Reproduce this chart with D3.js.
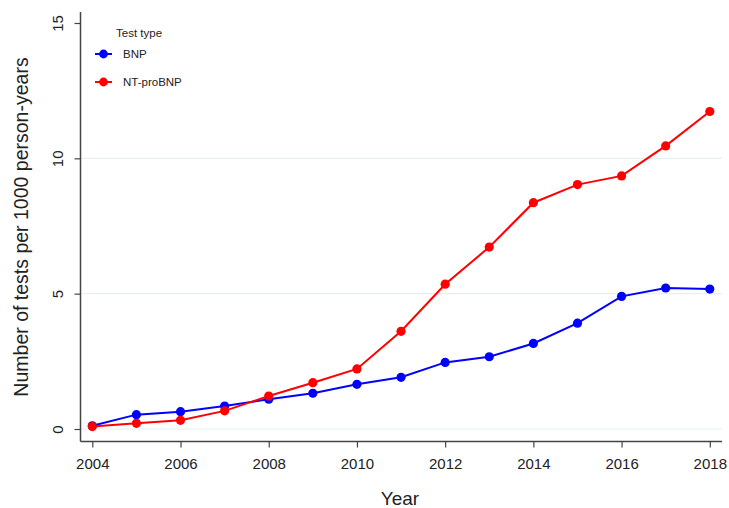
<!DOCTYPE html>
<html><head><meta charset="utf-8">
<script src="https://cdn.jsdelivr.net/npm/d3@7"></script>
<style>body{margin:0;background:#fff}svg{display:block;font-family:"Liberation Sans",Arial,sans-serif}</style>
</head><body>
<svg id="c" width="729" height="508"></svg>
<script>
const years = [2004,2005,2006,2007,2008,2009,2010,2011,2012,2013,2014,2015,2016,2017,2018];
const bnp = [0.12,0.53,0.64,0.85,1.10,1.32,1.65,1.91,2.46,2.67,3.16,3.91,4.90,5.21,5.17];
const ntprobnp = [0.09,0.21,0.32,0.67,1.22,1.71,2.22,3.61,5.35,6.72,8.36,9.03,9.35,10.46,11.73];
const xTicks = [2004,2006,2008,2010,2012,2014,2016,2018];
const yTicks = [0,5,10,15];
const seriesNames = ["BNP","NT-proBNP"];
const seriesColors = ["#0000ff","#ff0000"];
const legendTitle = "Test type";
const xTitle = "Year";
const yTitle = "Number of tests per 1000 person-years";

const svg = d3.select("#c");
const x = d3.scaleLinear().domain([2004,2018]).range([92.3,709.8]);
const y = d3.scaleLinear().domain([0,15]).range([429,23]);
const axisCol = "#444";
const ff = "'Liberation Sans',Arial,sans-serif";

// gridlines
svg.append("g").selectAll("line").data([0,5,10]).join("line")
  .attr("x1",81).attr("x2",722).attr("y1",d=>y(d)).attr("y2",d=>y(d))
  .attr("stroke","#e6eff1").attr("stroke-width",1.2);

// axes
const xAxis = svg.append("g").attr("transform","translate(0,441.5)")
  .call(d3.axisBottom(x).tickValues(xTicks).tickFormat(d3.format("d")).tickSize(6).tickSizeOuter(0));
xAxis.select(".domain").attr("d","M80.5,0H722").attr("stroke",axisCol).attr("stroke-width",1.5);
xAxis.selectAll(".tick line").attr("stroke",axisCol).attr("stroke-width",1.2);
xAxis.selectAll(".tick text").attr("font-size",15).attr("fill","#222").attr("y",27).attr("dy","0")
  .attr("font-family",ff);

const yAxis = svg.append("g").attr("transform","translate(80.5,0)")
  .call(d3.axisLeft(y).tickValues(yTicks).tickSize(6).tickSizeOuter(0));
yAxis.select(".domain").attr("d","M0,12V441.5").attr("stroke",axisCol).attr("stroke-width",1.5);
yAxis.selectAll(".tick line").attr("stroke",axisCol).attr("stroke-width",1.2);
yAxis.selectAll(".tick text").attr("font-size",15).attr("fill","#222")
  .attr("font-family",ff)
  .attr("transform","rotate(-90)").attr("x",0).attr("y",-21).attr("dy","0").attr("text-anchor","middle")
  .attr("dominant-baseline","middle");

// series
const data = [bnp, ntprobnp];
const line = d3.line().x((d,i)=>x(years[i])).y(d=>y(d));
data.forEach((vals,k)=>{
  const g = svg.append("g");
  g.append("path").datum(vals).attr("d",line).attr("fill","none")
    .attr("stroke",seriesColors[k]).attr("stroke-width",2);
  g.selectAll("circle").data(vals).join("circle")
    .attr("cx",(d,i)=>x(years[i])).attr("cy",d=>y(d)).attr("r",4.6)
    .attr("fill",seriesColors[k]);
});

// legend
svg.append("text").attr("x",116).attr("y",37).attr("font-size",11.5).attr("fill","#222").text(legendTitle);
seriesNames.forEach((n,k)=>{
  const ly = 54 + k*28;
  svg.append("line").attr("x1",95).attr("x2",112).attr("y1",ly).attr("y2",ly)
    .attr("stroke",seriesColors[k]).attr("stroke-width",2);
  svg.append("circle").attr("cx",103.5).attr("cy",ly).attr("r",4.4).attr("fill",seriesColors[k]);
  svg.append("text").attr("x",123).attr("y",ly+4).attr("font-size",11.5).attr("fill","#222").text(n);
});

// titles
svg.append("text").attr("x",400).attr("y",505).attr("text-anchor","middle")
  .attr("font-size",19).attr("fill","#222").text(xTitle);
svg.append("text").attr("transform","translate(28,227) rotate(-90)").attr("text-anchor","middle")
  .attr("font-size",19.5).attr("fill","#222").text(yTitle);
</script>
</body></html>
